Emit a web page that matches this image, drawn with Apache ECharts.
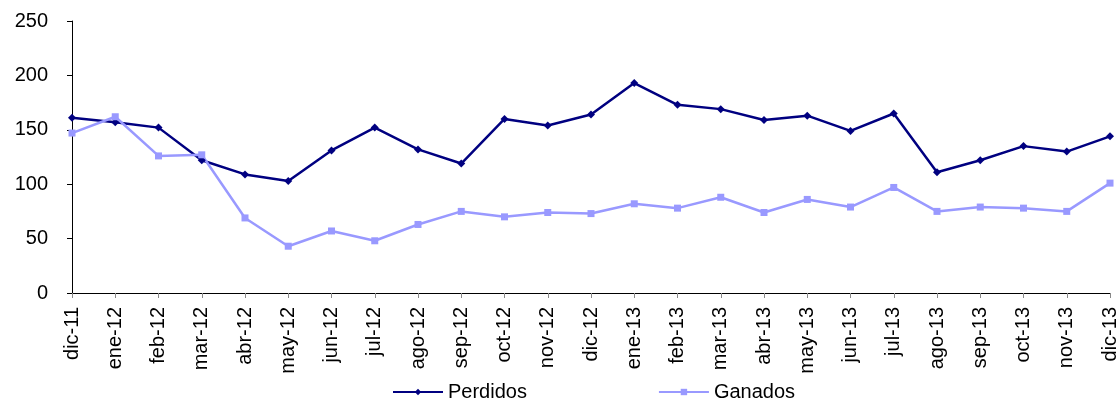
<!DOCTYPE html>
<html>
<head>
<meta charset="utf-8">
<script src="https://cdn.jsdelivr.net/npm/echarts@6/dist/echarts.min.js"></script>
<style>
  html, body { margin: 0; padding: 0; background: #fff; }
  #chart { width: 1120px; height: 400px; }
</style>
</head>
<body>
<div id="chart"></div>
<script>
// meses
const months = ['dic-11', 'ene-12', 'feb-12', 'mar-12', 'abr-12', 'may-12', 'jun-12', 'jul-12',
  'ago-12', 'sep-12', 'oct-12', 'nov-12', 'dic-12', 'ene-13', 'feb-13', 'mar-13', 'abr-13',
  'may-13', 'jun-13', 'jul-13', 'ago-13', 'sep-13', 'oct-13', 'nov-13', 'dic-13']
const perdidos = [161, 157, 152, 122, 109, 103, 131, 152, 132, 119, 160, 154, 164, 193, 173,
  169, 159, 163, 149, 165, 111, 122, 135, 130, 144]
const ganados = [147, 162, 126, 127, 69, 43, 57, 48, 63, 75, 70, 74, 73, 82, 78,
  88, 74, 86, 79, 97, 75, 79, 78, 75, 101]

const chart = echarts.init(document.getElementById('chart'))
const font = 'Liberation Sans, Arial, sans-serif'

chart.setOption({
  animation: false,
  textStyle: { fontFamily: font },
  grid: { left: 72, right: 8, top: 21, bottom: 107, containLabel: false },
  legend: {
    top: 377,
    left: 387,
    itemWidth: 50,
    itemHeight: 8,
    itemGap: 131,
    textStyle: { fontSize: 20, color: '#000', fontFamily: font },
    data: ['Perdidos', 'Ganados']
  },
  xAxis: {
    type: 'category',
    data: months,
    boundaryGap: false,
    axisLine: { lineStyle: { color: '#000', width: 1 } },
    axisTick: { show: true, length: 5, lineStyle: { color: '#888' }, alignWithLabel: true },
    axisLabel: { rotate: 90, fontSize: 20, color: '#000', margin: 14, interval: 0 },
    splitLine: { show: false }
  },
  yAxis: {
    type: 'value',
    min: 0,
    max: 250,
    interval: 50,
    axisLine: { show: true, lineStyle: { color: '#000', width: 1 } },
    axisTick: { show: true, length: 5, lineStyle: { color: '#000' } },
    axisLabel: { fontSize: 20, color: '#000', margin: 24 },
    splitLine: { show: false }
  },
  series: [
    {
      name: 'Perdidos',
      type: 'line',
      data: perdidos,
      symbol: 'diamond',
      symbolSize: 8,
      lineStyle: { color: '#000080', width: 2.5 },
      itemStyle: { color: '#000080' }
    },
    {
      name: 'Ganados',
      type: 'line',
      data: ganados,
      symbol: 'rect',
      symbolSize: 7,
      lineStyle: { color: '#9999ff', width: 2.5 },
      itemStyle: { color: '#9999ff' }
    }
  ]
})
</script>
</body>
</html>
